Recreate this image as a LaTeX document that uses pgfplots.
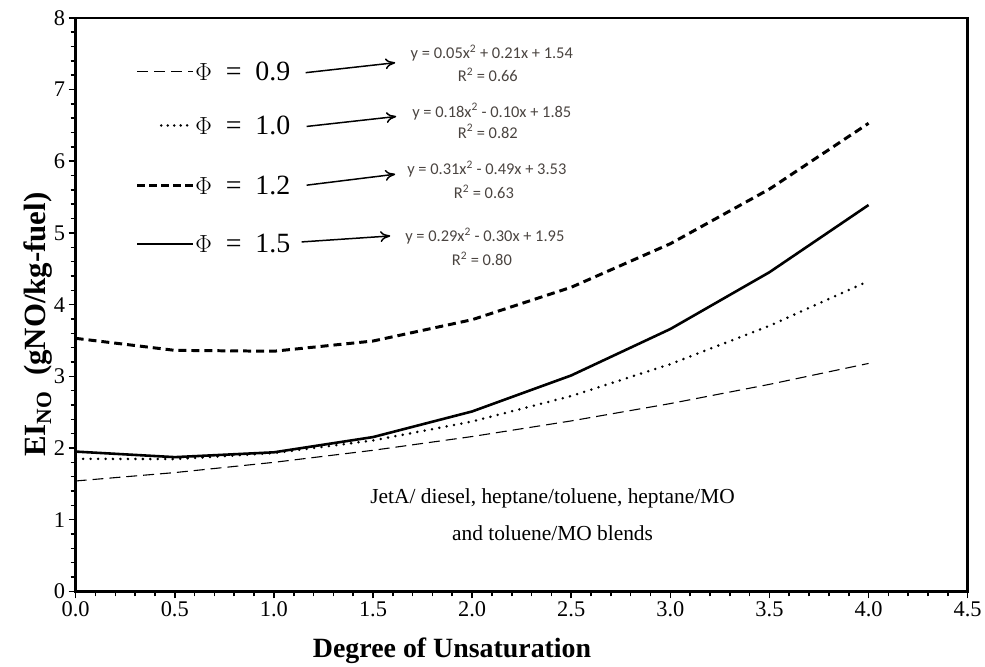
\documentclass[border=0pt]{standalone}
\usepackage{pgfplots}
\pgfplotsset{compat=1.18}
\usetikzlibrary{arrows.meta}
\usepackage{fontspec}
\setmainfont{Liberation Serif}
\newfontfamily\calib{Carlito}
\definecolor{eqcol}{HTML}{4A4440}
\begin{document}
\begin{tikzpicture}[x=1pt,y=1pt]
\begin{axis}[
  at={(0,0)}, anchor=south west,
  scale only axis, width=896pt, height=576pt,
  xmin=0, xmax=4.5, ymin=0, ymax=8,
  xtick={0,0.5,...,4.5}, ytick={0,1,...,8},
  minor x tick num=4, minor y tick num=4,
  xtick pos=left, ytick pos=left,
  tick align=outside,
  major tick length=7pt, minor tick length=5pt,
  every tick/.style={black, line width=1.6pt},
  axis line style={line width=2.6pt},
  /pgf/number format/assume math mode=true,
  xticklabel style={font=\fontsize{22.5}{22.5}\selectfont, /pgf/number format/.cd, fixed, fixed zerofill, precision=1},
  yticklabel style={font=\fontsize{22.5}{22.5}\selectfont},
  xlabel={\textbf{Degree of Unsaturation}},
  ylabel={\textbf{EI\textsubscript{NO}\ \ (gNO/kg-fuel)}},
  xlabel style={font=\fontsize{28}{28}\selectfont, at={(ticklabel cs:0.422)}, yshift=-14pt},
  ylabel style={font=\fontsize{31}{31}\selectfont, at={(ticklabel cs:0.465)}, yshift=-5pt},
  clip=false,
]
% Phi = 0.9
\addplot[black, line width=1.1pt, dash pattern=on 11pt off 6pt] coordinates {
 (0,1.54) (0.5,1.657) (1,1.80) (1.5,1.968) (2,2.16) (2.5,2.378) (3,2.62) (3.5,2.888) (4,3.18)};
% Phi = 1.0
\addplot[black, line width=2.8pt, line cap=round, dash pattern=on 0pt off 7.5pt] coordinates {
 (0,1.85) (0.5,1.845) (1,1.93) (1.5,2.105) (2,2.37) (2.5,2.725) (3,3.17) (3.5,3.705) (4,4.33)};
% Phi = 1.2
\addplot[black, line width=3pt, dash pattern=on 8pt off 5pt] coordinates {
 (0,3.53) (0.5,3.3625) (1,3.35) (1.5,3.4925) (2,3.79) (2.5,4.2425) (3,4.85) (3.5,5.6125) (4,6.53)};
% Phi = 1.5
\addplot[black, line width=2.6pt] coordinates {
 (0,1.95) (0.5,1.8725) (1,1.94) (1.5,2.1525) (2,2.51) (2.5,3.0125) (3,3.66) (3.5,4.4525) (4,5.39)};
\end{axis}
% frame top/right
\draw[line width=2.6pt] (0,576) -- (896,576) -- (896,0);
% legend samples (px -> pt: X-76, 594-Y)
\draw[black, line width=1.1pt, dash pattern=on 11pt off 6pt] (62,522) -- (118,522);
\draw[black, line width=2.8pt, line cap=round, dash pattern=on 0pt off 6.5pt] (86,468) -- (118,468);
\draw[black, line width=3pt, dash pattern=on 8pt off 4pt] (62,408) -- (118,408);
\draw[black, line width=2.6pt] (62,349) -- (118,349);
\begin{scope}[font=\fontsize{28}{28}\selectfont]
\node[anchor=west, inner sep=0pt] at (120,522) {$\Phi$\enspace=\enspace0.9};
\node[anchor=west, inner sep=0pt] at (120,468) {$\Phi$\enspace=\enspace1.0};
\node[anchor=west, inner sep=0pt] at (120,408) {$\Phi$\enspace=\enspace1.2};
\node[anchor=west, inner sep=0pt] at (120,349) {$\Phi$\enspace=\enspace1.5};
\end{scope}
% arrows
\draw[-{To[length=10pt,width=11pt]}, line width=1.5pt] (231,521) -- (321,531);
\draw[-{To[length=10pt,width=11pt]}, line width=1.5pt] (232,467) -- (322,477);
\draw[-{To[length=10pt,width=11pt]}, line width=1.5pt] (232,408) -- (321,419);
\draw[-{To[length=10pt,width=11pt]}, line width=1.5pt] (227,351) -- (316,357);
% equations
\begin{scope}[font=\calib\fontsize{16.5}{16.5}\selectfont, text=eqcol]
\node at (418,541) {y = 0.05x\textsuperscript{2} + 0.21x + 1.54};
\node at (414,519) {R\textsuperscript{2} = 0.66};
\node at (418,482) {y = 0.18x\textsuperscript{2} - 0.10x + 1.85};
\node at (414,462) {R\textsuperscript{2} = 0.82};
\node at (413,424) {y = 0.31x\textsuperscript{2} - 0.49x + 3.53};
\node at (410,401) {R\textsuperscript{2} = 0.63};
\node at (411,357) {y = 0.29x\textsuperscript{2} - 0.30x + 1.95};
\node at (408,334) {R\textsuperscript{2} = 0.80};
\end{scope}
\node[align=center, font=\fontsize{21.5}{38}\selectfont] at (479,77) {JetA/ diesel, heptane/toluene, heptane/MO\\and toluene/MO blends};
\path (-76,-72) rectangle (909,594);
\end{tikzpicture}
\end{document}
